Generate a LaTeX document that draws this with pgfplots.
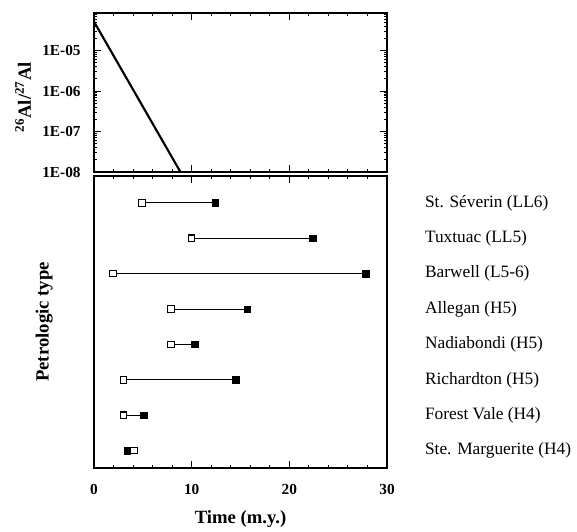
\documentclass[border=0pt]{standalone}
\usepackage{fontspec}
\setmainfont{Liberation Serif}
\usepackage{pgfplots}
\pgfplotsset{compat=1.18}
\usepackage{pgfplotstable}

\pgfplotstableread{
row open filled
8 4.9 12.4
7 10.0 22.4
6 1.95 27.8
5 7.9 15.7
4 7.9 10.3
3 3.0 14.5
2 3.0 5.1
1 4.1 3.4
}\meteorites

\begin{document}
\begin{tikzpicture}
\pgfplotsset{
  every axis/.append style={
    scale only axis, width=219.75pt,
    xmin=0, xmax=30,
    axis line style={line width=1pt},
    major tick length=5pt, minor tick length=2.5pt,
    every tick/.style={black, line width=0.8pt},
    tick label style={font=\fontsize{11.5}{13}\selectfont\bfseries},
    /pgf/number format/assume math mode=true,
    label style={font=\fontsize{14}{16}\selectfont\bfseries},
  }
}
\begin{axis}[
  name=top, at={(0,0)}, anchor=south west, height=119.25pt,
  ymode=log, ymin=1e-8, ymax=8.5e-5,
  xtick={0,10,20,30}, minor x tick num=4, xticklabels={},
  ytick={1e-8,1e-7,1e-6,1e-5},
  yticklabels={1E-08,1E-07,1E-06,1E-05},
  minor ytick={2e-8,3e-8,4e-8,5e-8,6e-8,7e-8,8e-8,9e-8,
               2e-7,3e-7,4e-7,5e-7,6e-7,7e-7,8e-7,9e-7,
               2e-6,3e-6,4e-6,5e-6,6e-6,7e-6,8e-6,9e-6,
               2e-5,3e-5,4e-5,5e-5,6e-5,7e-5,8e-5},
  yticklabel style={xshift=-6.5pt},
  ylabel={\textsuperscript{26}Al/\textsuperscript{27}Al},
  ylabel style={at={(axis description cs:-0.242,0.47)}, anchor=center},
]
\addplot[black, line width=1.6pt] coordinates {(0,5.2e-5) (8.85,1e-8)};
\end{axis}

\begin{axis}[
  name=bot, at={(0,-3pt)}, anchor=north west, height=219pt,
  ymin=0.51, ymax=8.76,
  xtick={0,10,20,30}, minor x tick num=4,
  xtick pos=both, xticklabel pos=lower,
  xticklabel style={yshift=-8.5pt},
  ytick={1,2,3,4,5,6,7,8},
  yticklabels={Ste. Marguerite (H4), Forest Vale (H4), Richardton (H5), Nadiabondi (H5), Allegan (H5), Barwell (L5-6), Tuxtuac (LL5), St. Séverin (LL6)},
  ytick pos=right, yticklabel pos=right,
  ytick style={draw=none},
  yticklabel style={font=\fontsize{13}{15}\selectfont\mdseries, anchor=west, xshift=25pt},
  xlabel={Time (m.y.)},
  xlabel style={at={(axis description cs:0.5,0)}, anchor=center, yshift=-38pt},
  ylabel={Petrologic type},
  ylabel style={at={(axis description cs:-0.17,0.5)}, anchor=center},
]
\addplot[black, line width=0.7pt] coordinates {(4.9,8) (12.4,8)};
\addplot[black, line width=0.7pt] coordinates {(10.0,7) (22.4,7)};
\addplot[black, line width=0.7pt] coordinates {(1.95,6) (27.8,6)};
\addplot[black, line width=0.7pt] coordinates {(7.9,5) (15.7,5)};
\addplot[black, line width=0.7pt] coordinates {(7.9,4) (10.3,4)};
\addplot[black, line width=0.7pt] coordinates {(3.0,3) (14.5,3)};
\addplot[black, line width=0.7pt] coordinates {(3.0,2) (5.1,2)};
\addplot[black, line width=0.7pt] coordinates {(3.4,1) (4.1,1)};
\addplot[only marks, mark=square*, mark size=2.45pt, black] table[x=filled, y=row]{\meteorites};
\addplot[only marks, mark=square*, mark size=2.45pt, mark options={draw=black, fill=white, line width=0.8pt}] table[x=open, y=row]{\meteorites};
\end{axis}
\path (-70.5pt,-267.75pt) rectangle (362.25pt,129pt);
\end{tikzpicture}
\end{document}
